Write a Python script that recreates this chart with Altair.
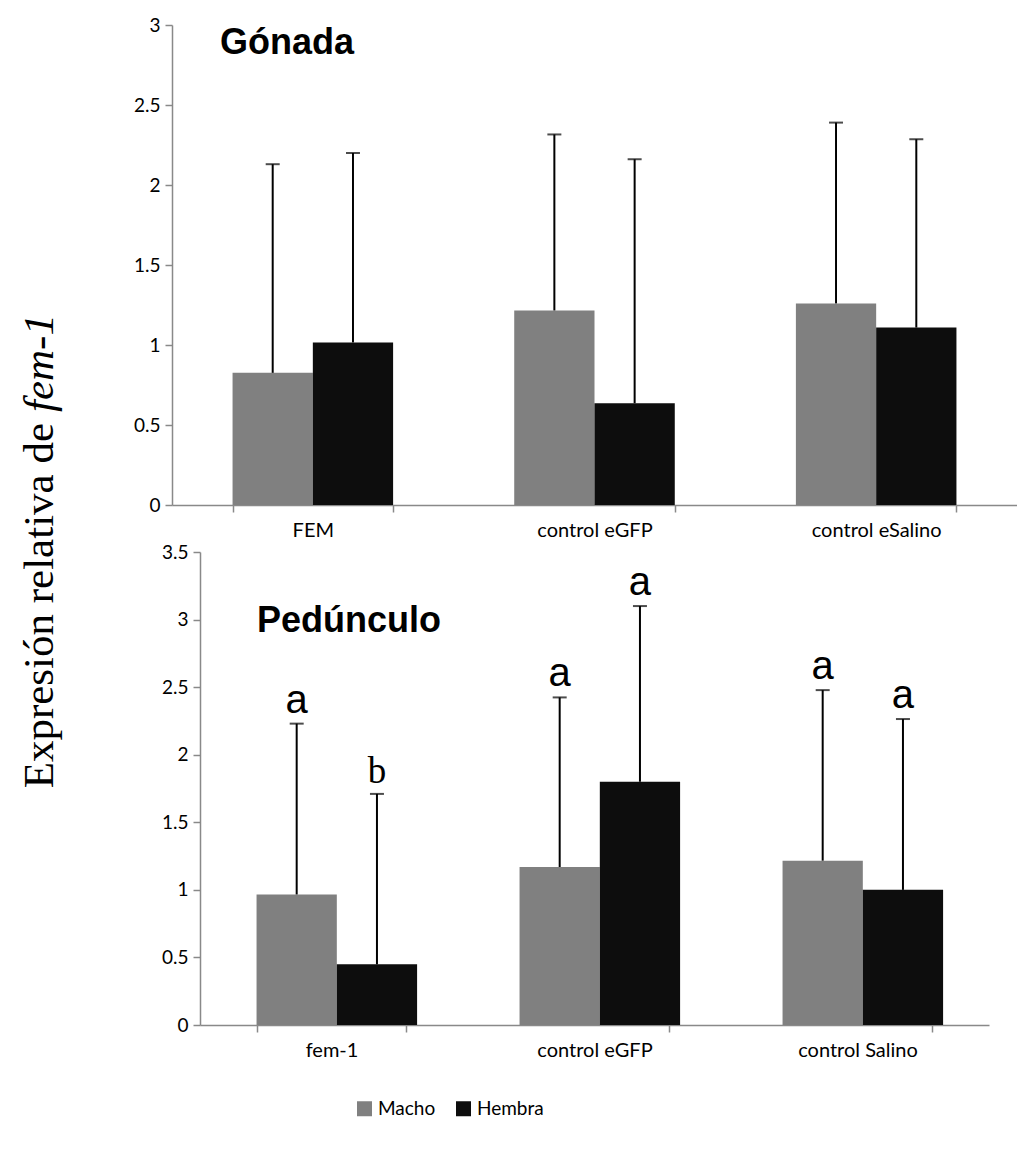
import altair as alt
import pandas as pd

# ---------------- data ----------------
SEXES = ["Macho", "Hembra"]
SEX_COLORS = ["#808080", "#0d0d0d"]

top_groups = ["FEM", "control eGFP", "control eSalino"]
top_macho = [0.826, 1.216, 1.26]
top_hembra = [1.016, 0.636, 1.109]
top_macho_upper = [2.13, 2.316, 2.39]
top_hembra_upper = [2.20, 2.161, 2.286]

bot_groups = ["fem-1", "control eGFP", "control Salino"]
bot_macho = [0.966, 1.169, 1.216]
bot_hembra = [0.449, 1.80, 1.0]
bot_macho_upper = [2.23, 2.424, 2.478]
bot_hembra_upper = [1.71, 3.10, 2.264]
bot_macho_letters = ["a", "a", "a"]
bot_hembra_letters = ["b", "a", "a"]

top_ticks = [0, 0.5, 1, 1.5, 2, 2.5, 3]
bot_ticks = [0, 0.5, 1, 1.5, 2, 2.5, 3, 3.5]

ytitle_parts = ["Expresión relativa de", "fem-1"]


def make_df(groups, macho, hembra, macho_up, hembra_up, macho_let=None, hembra_let=None):
    rows = []
    for i, g in enumerate(groups):
        rows.append({"group": g, "sex": "Macho", "value": macho[i], "upper": macho_up[i],
                     "letter": macho_let[i] if macho_let else ""})
        rows.append({"group": g, "sex": "Hembra", "value": hembra[i], "upper": hembra_up[i],
                     "letter": hembra_let[i] if hembra_let else ""})
    return pd.DataFrame(rows)


top_df = make_df(top_groups, top_macho, top_hembra, top_macho_upper, top_hembra_upper)
bot_df = make_df(bot_groups, bot_macho, bot_hembra, bot_macho_upper, bot_hembra_upper,
                 bot_macho_letters, bot_hembra_letters)

AXIS_GRAY = "#898989"
LABEL_FONT = "Lato"

legend = alt.Legend(
    title=None, orient="none", legendX=355, legendY=1074, direction="horizontal",
    symbolType="square", symbolSize=225, symbolStrokeWidth=0, labelFont=LABEL_FONT,
    labelFontSize=19, labelColor="black", columnPadding=18, labelOffset=4, padding=0,
)


def panel(df, groups, ymax, ticks, width, height, title, title_x, title_y):
    x = alt.X("group:N", sort=groups,
              scale=alt.Scale(paddingInner=0.43, paddingOuter=0.215),
              axis=alt.Axis(title=None, labelAngle=0, tickBand="extent", tickSize=7,
                            domainColor=AXIS_GRAY, tickColor=AXIS_GRAY, domainWidth=1.5,
                            tickWidth=1.5, labelFont=LABEL_FONT, labelFontSize=20,
                            labelColor="black", labelPadding=8))
    xo = alt.XOffset("sex:N", sort=SEXES, scale=alt.Scale(paddingInner=0, paddingOuter=0))
    y = alt.Y("value:Q", scale=alt.Scale(domain=[0, ymax], nice=False),
              axis=alt.Axis(title=None, values=ticks, format="~g", grid=False, tickSize=7,
                            domainColor=AXIS_GRAY, tickColor=AXIS_GRAY, domainWidth=1.5,
                            tickWidth=1.5, labelFont=LABEL_FONT, labelFontSize=19,
                            labelColor="black", labelPadding=5, minExtent=40))
    color = alt.Color("sex:N", sort=SEXES,
                      scale=alt.Scale(domain=SEXES, range=SEX_COLORS), legend=legend)
    base = alt.Chart(df)
    bars = base.mark_bar().encode(x=x, xOffset=xo, y=y, color=color)
    rule = base.mark_rule(color="black", strokeWidth=2).encode(
        x=x, xOffset=xo, y="value:Q", y2="upper:Q")
    cap = base.mark_tick(color="black", thickness=2, size=14).encode(
        x=x, xOffset=xo, y="upper:Q")
    ttl = alt.Chart(pd.DataFrame({"t": [title]})).mark_text(
        font="Liberation Sans", fontWeight="bold", fontSize=36, align="left",
        baseline="alphabetic", color="black").encode(
        text="t:N", x=alt.value(title_x), y=alt.value(title_y))
    layers = [bars, rule, cap]
    if (df["letter"] != "").any():
        la = base.transform_filter(alt.datum.letter == "a").mark_text(
            font="Liberation Sans", fontSize=40, baseline="bottom", dy=-3, color="black"
        ).encode(x=x, xOffset=xo, y="upper:Q", text="letter:N")
        lb = base.transform_filter(alt.datum.letter == "b").mark_text(
            font="Liberation Serif", fontSize=37, baseline="bottom", dy=-3, color="black"
        ).encode(x=x, xOffset=xo, y="upper:Q", text="letter:N")
        layers += [la, lb]
    layers.append(ttl)
    return alt.layer(*layers).properties(width=width, height=height)


def spacer(w):
    return alt.Chart(pd.DataFrame({"s": [0]})).mark_point(opacity=0, size=0).encode(
        x=alt.value(0), y=alt.value(0)).properties(width=w, height=10)


top = panel(top_df, top_groups, 3, top_ticks, 845, 480, "Gónada", 48, 29)
bottom = panel(bot_df, bot_groups, 3.5, bot_ticks, 789, 473, "Pedúnculo", 57, 80)

tdf = pd.DataFrame({"t": ytitle_parts})
t1 = alt.Chart(tdf).transform_filter(alt.datum.t == ytitle_parts[0]).mark_text(
    font="Liberation Serif", fontSize=43, angle=270, align="right", baseline="middle",
    color="black").encode(text="t:N", x=alt.value(40), y=alt.value(398))
t2 = alt.Chart(tdf).transform_filter(alt.datum.t == ytitle_parts[1]).mark_text(
    font="Liberation Serif", fontSize=43, fontStyle="italic", angle=270, align="left",
    baseline="middle", color="black").encode(text="t:N", x=alt.value(40), y=alt.value(387))
title_chart = alt.layer(t1, t2).properties(width=80, height=1000)

panels = alt.vconcat(
    alt.hconcat(spacer(52), top, spacing=0),
    alt.hconcat(spacer(80), bottom, spacing=0),
    spacing=3,
)

chart = alt.hconcat(title_chart, panels, spacing=0).properties(
    padding={"left": 0, "top": 16, "right": 0, "bottom": 0}
).configure_view(stroke=None)

chart.save("out.html", embed_options={"renderer": "svg", "actions": False})
